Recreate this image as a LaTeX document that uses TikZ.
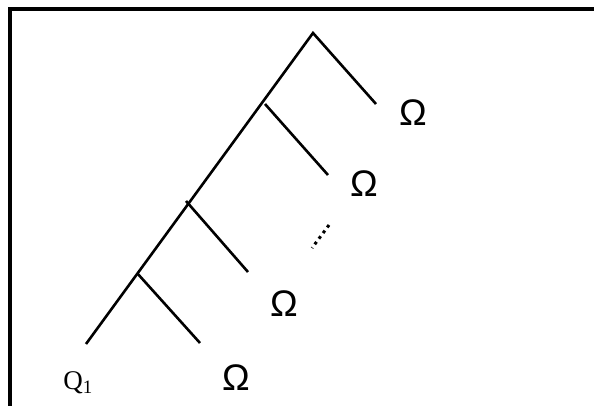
\documentclass[tikz,border=0pt]{standalone}
\usepackage{fontspec}
\setmainfont{Liberation Serif}
\newfontfamily\omegafont{Liberation Sans}

\begin{document}
\begin{tikzpicture}[x=1pt,y=-1pt,
  branch/.style={line width=2.6pt},
  leaf/.style={inner sep=0pt,font=\omegafont\fontsize{37}{37}\selectfont},
  startlbl/.style={inner sep=0pt,font=\fontsize{27}{27}\selectfont}]
\useasboundingbox (0,0) rectangle (594,406);
\draw[line width=3.5pt] (10,406) -- (10,9) -- (594,9);
% junctions on the trunk
\coordinate (apex) at (313,33);
\coordinate (j1) at (265,104);
\coordinate (j2) at (186,201);
\coordinate (j3) at (137,273);
\coordinate (root) at (86,344);
% branch ends
\coordinate (e0) at (376,104);
\coordinate (e1) at (328,175);
\coordinate (e2) at (248,272);
\coordinate (e3) at (200,343);
\coordinate (d1) at (329,225);
\coordinate (d2) at (312,248);
% labels
\node[leaf] (w0) at (413,113) {Ω};
\node[leaf] (w1) at (364,184) {Ω};
\node[leaf] (w2) at (284,304) {Ω};
\node[leaf] (w3) at (236,378) {Ω};
\node[startlbl] (q) at (78,383) {Q\textsubscript{1}};
% tree
\draw[branch] (root) -- (apex) -- (e0);
\draw[branch] (j1) -- (e1);
\draw[branch] (j2) -- (e2);
\draw[branch] (j3) -- (e3);
\draw[line width=3pt,dash pattern=on 3pt off 4pt] (d1) -- (d2);
\end{tikzpicture}
\end{document}
